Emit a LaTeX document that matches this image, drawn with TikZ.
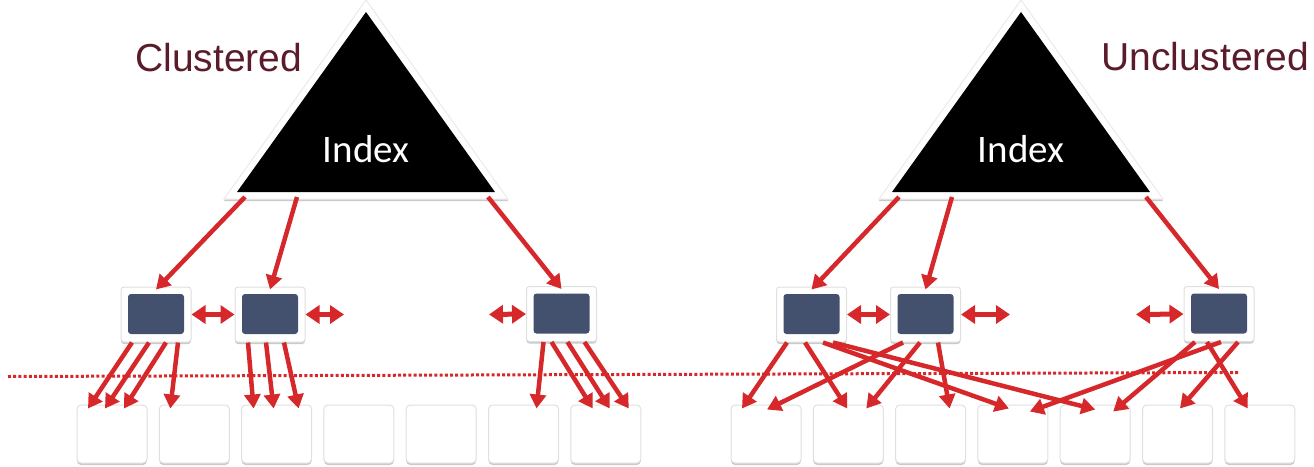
\documentclass[tikz,border=0pt]{standalone}
\usepackage{fontspec}
\setmainfont{Liberation Sans}
\newfontfamily\idxfont{Carlito}
\usetikzlibrary{arrows.meta,positioning,shadows}
\definecolor{idxred}{RGB}{214,40,42}
\definecolor{leafblue}{RGB}{68,81,110}
\definecolor{headred}{RGB}{90,28,42}
\tikzset{
 softshadow/.style={drop shadow={shadow xshift=0pt,shadow yshift=-2pt,opacity=.35,fill=black!60}},
 heading/.style={text=headred,font=\fontsize{39}{44}\selectfont,inner sep=0pt},
 idxlabel/.style={text=white,font=\idxfont\fontsize{39}{44}\selectfont,inner sep=0pt},
 leafbox/.style={fill=white,draw=black!12,line width=1pt,rounded corners=3pt,minimum width=70pt,
             minimum height=55pt,inner sep=0pt,softshadow,
             path picture={\fill[leafblue] ([shift={(7pt,-7pt)}]path picture bounding box.north west)
               rectangle ([shift={(-7pt,8pt)}]path picture bounding box.south east);}},
 datapage/.style={fill=white,draw=black!12,line width=1pt,rounded corners=4pt,minimum width=70pt,
             minimum height=58pt,inner sep=0pt,softshadow},
 link/.style={draw=idxred,line width=4.5pt,-{Triangle[length=14pt,width=16pt]}},
 dbl/.style={draw=idxred,line width=5pt,{Triangle[length=14pt,width=18pt]}-{Triangle[length=14pt,width=18pt]}},
 cut/.style={draw=idxred,line width=3pt,dash pattern=on 3pt off 2.2pt}
}
\begin{document}
\begin{tikzpicture}[x=1pt,y=-1pt,node distance=11.3pt]
\useasboundingbox (0,0) rectangle (1314,466);
\draw[cut] (8,376.5) -- (1240,372.5);

% clustered side
\filldraw[fill=white,draw=black!8,line width=1pt,softshadow] (366,0) -- (224,199) -- (508,199) -- cycle;
\fill[black] (366,12) -- (237,192) -- (495,192) -- cycle;
\node[idxlabel,anchor=base] (idxL) at (366,162) {Index};
\node[heading,anchor=base west] (clus) at (135,71) {Clustered};
\coordinate (lr1) at (245,197);
\coordinate (lr2) at (297,197);
\coordinate (lr3) at (488,197);

\node[leafbox] (la) at (156,314.5) {};
\node[leafbox] (lb) at (270,314.5) {};
\node[leafbox] (lc) at (561.5,314) {};
\coordinate (lgapB) at (344,314.5);
\coordinate (lgapC) at (489,314.5);

\node[datapage] (lp1) at (112,434) {};
\node[datapage,right=of lp1] (lp2) {};
\node[datapage,right=of lp2] (lp3) {};
\node[datapage,right=of lp3] (lp4) {};
\node[datapage,right=of lp4] (lp5) {};
\node[datapage,right=of lp5] (lp6) {};
\node[datapage,right=of lp6] (lp7) {};

\draw[link] (lr1) -- ([yshift=-3pt]la.north);
\draw[link] (lr2) -- ([yshift=-3pt]lb.north);
\draw[link] (lr3) -- ([yshift=-3pt]lc.north);
\draw[dbl] (la.east) -- (lb.west);
\draw[dbl] (lb.east) -- (lgapB);
\draw[dbl] (lgapC) -- (lc.west);

\draw[link] ([xshift=-24pt]la.south) -- ([xshift=-24pt,yshift=-4pt]lp1.north);
\draw[link] ([xshift=-7pt]la.south) -- ([xshift=-7pt,yshift=-4pt]lp1.north);
\draw[link] ([xshift=10pt]la.south) -- ([xshift=12pt,yshift=-4pt]lp1.north);
\draw[link] ([xshift=22pt]la.south) -- ([xshift=-24pt,yshift=-4pt]lp2.north);
\draw[link] ([xshift=-22pt]lb.south) -- ([xshift=-23pt,yshift=-4pt]lp3.north);
\draw[link] ([xshift=-4pt]lb.south) -- ([xshift=-3pt,yshift=-4pt]lp3.north);
\draw[link] ([xshift=14pt]lb.south) -- ([xshift=22pt,yshift=-4pt]lp3.north);
\draw[link] ([xshift=-18pt]lc.south) -- ([xshift=13pt,yshift=-4pt]lp6.north);
\draw[link] ([xshift=-10pt]lc.south) -- ([xshift=-13pt,yshift=-4pt]lp7.north);
\draw[link] ([xshift=6pt]lc.south) -- ([xshift=4pt,yshift=-4pt]lp7.north);
\draw[link] ([xshift=23pt]lc.south) -- ([xshift=23pt,yshift=-4pt]lp7.north);

% unclustered side
\filldraw[fill=white,draw=black!8,line width=1pt,softshadow] (1021,0) -- (879,199) -- (1163,199) -- cycle;
\fill[black] (1021,12) -- (892,192) -- (1150,192) -- cycle;
\node[idxlabel,anchor=base] (idxR) at (1021,162) {Index};
\node[heading,anchor=base west] (unclus) at (1101,70) {Unclustered};
\coordinate (rr1) at (899,197);
\coordinate (rr2) at (952,197);
\coordinate (rr3) at (1146,197);

\node[leafbox] (ra) at (811.5,314.5) {};
\node[leafbox] (rb) at (925.5,314.5) {};
\node[leafbox] (rc) at (1219,314) {};
\coordinate (rgapE) at (1010,314.5);
\coordinate (rgapF) at (1136,314.5);

\node[datapage] (rp1) at (766,434) {};
\node[datapage,right=of rp1] (rp2) {};
\node[datapage,right=of rp2] (rp3) {};
\node[datapage,right=of rp3] (rp4) {};
\node[datapage,right=of rp4] (rp5) {};
\node[datapage,right=of rp5] (rp6) {};
\node[datapage,right=of rp6] (rp7) {};

\draw[link] (rr1) -- ([yshift=-3pt]ra.north);
\draw[link] (rr2) -- ([yshift=-3pt]rb.north);
\draw[link] (rr3) -- ([yshift=-3pt]rc.north);
\draw[dbl] (ra.east) -- (rb.west);
\draw[dbl] (rb.east) -- (rgapE);
\draw[dbl] (rgapF) -- (rc.west);

\draw[link] ([xshift=-24.5pt]ra.south) -- ([xshift=-24pt,yshift=-4pt]rp1.north);
\draw[link] ([xshift=-6.5pt]ra.south) -- ([xshift=-1pt,yshift=-4pt]rp2.north);
\draw[link] ([xshift=11.5pt]ra.south) -- ([xshift=-4pt,yshift=-4pt]rp4.north);
\draw[link] ([xshift=21.5pt]ra.south) -- ([xshift=0pt,yshift=-5pt]rp5.north);
\draw[link] ([xshift=-22.5pt]rb.south) -- ([xshift=1pt,yshift=-5pt]rp1.north);
\draw[link] ([xshift=-5.5pt]rb.south) -- ([xshift=18pt,yshift=-4pt]rp2.north);
\draw[link] ([xshift=12.5pt]rb.south) -- ([xshift=19pt,yshift=-4pt]rp3.north);
\draw[link] ([xshift=-24pt]rc.south) -- ([xshift=18pt,yshift=-7pt]rp5.north);
\draw[link] ([xshift=-12pt]rc.south) -- ([xshift=-12pt,yshift=-4pt]rp7.north);
\draw[link] ([xshift=2pt]rc.south) -- ([xshift=17pt,yshift=-7pt]rp4.north);
\draw[link] ([xshift=19pt]rc.south) -- ([xshift=2.5pt,yshift=-4pt]rp6.north);
\end{tikzpicture}
\end{document}
